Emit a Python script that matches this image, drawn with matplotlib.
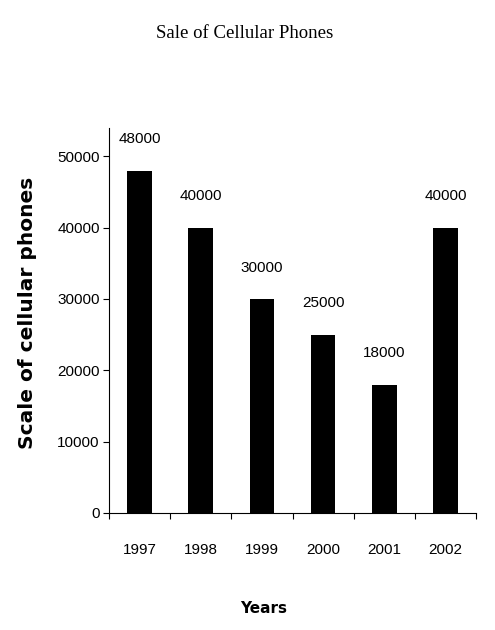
import numpy as np
import matplotlib.pyplot as plt
from matplotlib import font_manager

years = ['1997', '1998', '1999', '2000', '2001', '2002']
sales = [48000, 40000, 30000, 25000, 18000, 40000]

names = {f.name for f in font_manager.fontManager.ttflist}
narrow = 'Liberation Sans Narrow' if 'Liberation Sans Narrow' in names else 'Liberation Sans'

fig = plt.figure(figsize=(4.95, 6.3), dpi=100)
ax = fig.add_axes([0.220, 0.186, 0.742, 0.611])

x = np.arange(len(years))
ax.bar(x, sales, width=0.4, color='black')
for xi, v in zip(x, sales):
    ax.text(xi, v + 3400, str(v), ha='center', va='bottom', family=narrow, fontsize=11)

ax.set_xlim(-0.5, len(years) - 0.5)
ax.set_ylim(0, 54000)
ax.set_yticks([0, 10000, 20000, 30000, 40000, 50000])
ax.set_yticklabels(['0', '10000', '20000', '30000', '40000', '50000'], family=narrow, fontsize=11)
ax.set_xticks(np.arange(len(years) + 1) - 0.5)
ax.set_xticklabels([])
ax.set_xticks(x, minor=True)
ax.set_xticklabels(years, minor=True, family=narrow, fontsize=11)
ax.tick_params(axis='x', which='minor', length=0, pad=22)
ax.tick_params(axis='both', which='major', length=4, width=0.8, direction='out', pad=2.5)
ax.spines['top'].set_visible(False)
ax.spines['right'].set_visible(False)

ax.set_xlabel('Years', fontweight='bold', fontsize=11)
ax.xaxis.set_label_coords(0.42, -0.23)
ax.set_ylabel('Scale of cellular phones', fontweight='bold', fontsize=14.5)
ax.yaxis.set_label_coords(-0.195, 0.52)
fig.text(0.495, 0.947, 'Sale of Cellular Phones', ha='center', va='center',
         family='Liberation Serif', fontsize=13.5)

fig.savefig('out.png', dpi=100)
